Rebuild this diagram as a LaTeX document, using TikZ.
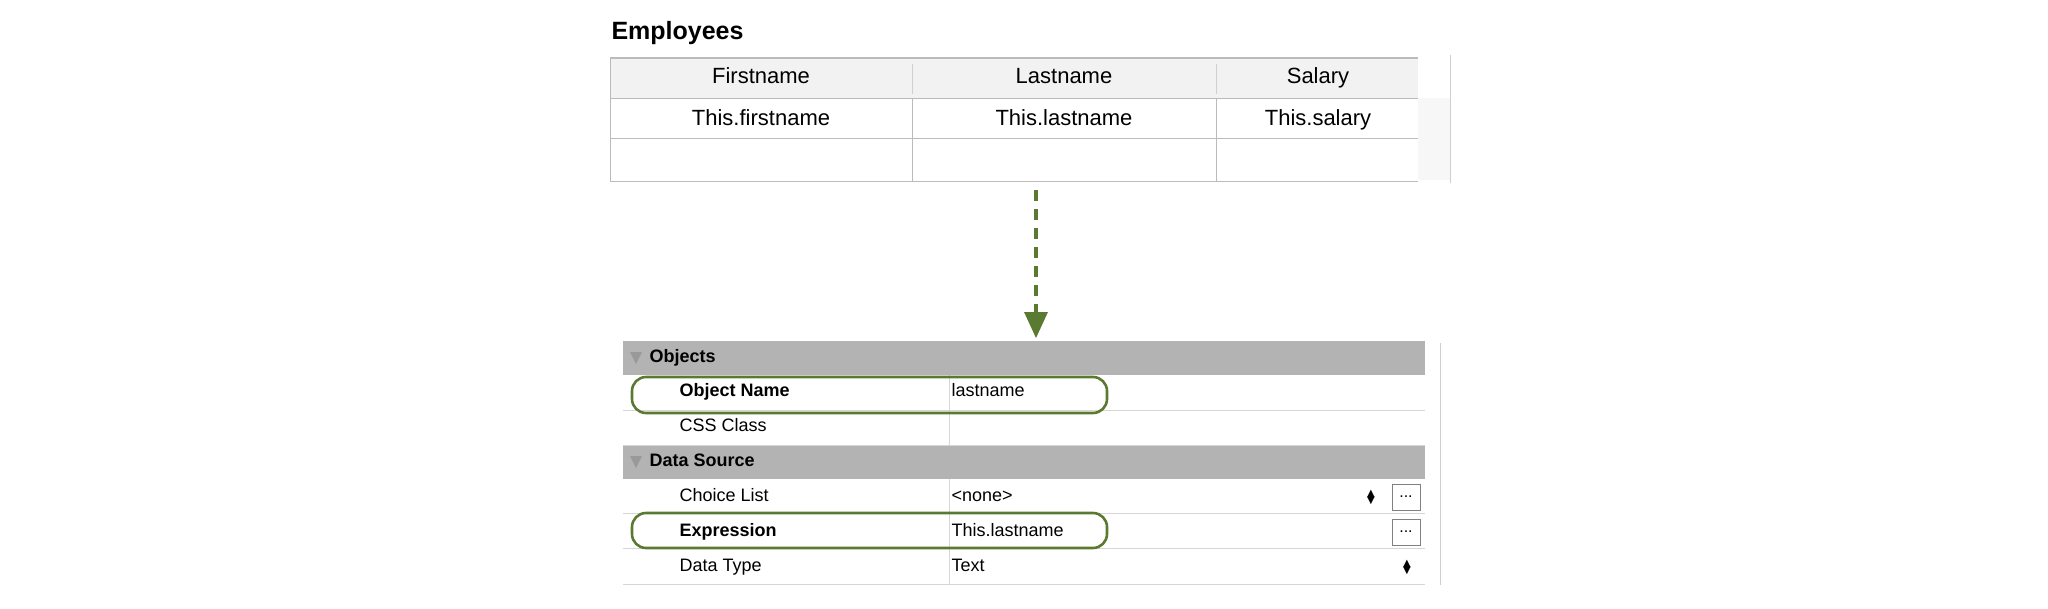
\documentclass[tikz,border=0pt]{standalone}
\usepackage{fontspec}
\setmainfont{Liberation Sans}
\newfontfamily\djv{DejaVu Sans}
\definecolor{grn}{HTML}{5A7A32}
\definecolor{hdr}{HTML}{B3B3B3}
\definecolor{thd}{HTML}{F2F2F2}
\definecolor{ln}{HTML}{BBBBBB}
\begin{document}
\begin{tikzpicture}[x=1pt,y=-1pt,
  tt/.style={font=\fontsize{22}{24}\selectfont,text height=16pt,text depth=5pt},
  pt/.style={font=\fontsize{18}{20}\selectfont,anchor=west,text height=13pt,text depth=4pt},
  pb/.style={font=\bfseries\fontsize{18}{20}\selectfont,anchor=west,text height=13pt,text depth=4pt},
  hl/.style={draw=grn,line width=2.6pt,rounded corners=14pt},
  btn/.style={draw=gray,fill=white,minimum width=28pt,minimum height=26pt,inner sep=0pt,font=\fontsize{16}{16}\selectfont}]
\useasboundingbox (0,0) rectangle (2048,608);
% table
\node[anchor=west,font=\bfseries\fontsize{25}{28}\selectfont] (title) at (608,33) {Employees};
\fill[thd] (610,58) rectangle (1418,98);
\fill[thd!60] (1418,98) rectangle (1450,180);
\draw[ln,line width=1.2pt] (610,58) -- (1418,58);
\draw[ln,line width=1pt] (610,58) -- (610,182);
\draw[ln,line width=1pt] (610,98) -- (1418,98) (610,138) -- (1418,138) (610,181) -- (1418,181);
\draw[ln!70,line width=1pt] (912,64) -- (912,94) (1216,64) -- (1216,94);
\draw[ln,line width=1pt] (912,98) -- (912,182) (1216,98) -- (1216,182);
\draw[ln!70,line width=1pt] (1450,55) -- (1450,183);
\node[tt] (h1) at (761,78) {Firstname};
\node[tt] (h2) at (1064,78) {Lastname};
\node[tt] (h3) at (1318,78) {Salary};
\node[tt] (c1) at (761,120) {This.firstname};
\node[tt] (c2) at (1064,120) {This.lastname};
\node[tt] (c3) at (1318,120) {This.salary};
% arrow
\coordinate (as) at (1036,190);
\coordinate (ae) at (1036,312);
\draw[grn,line width=4pt,dash pattern=on 11pt off 8pt] (as) -- (ae);
\fill[grn] (1024,312) -- (1048,312) -- (1036,338) -- cycle;
% panel
\fill[hdr] (623,341) rectangle (1425,375);
\fill[hdr] (623,445) rectangle (1425,479);
\draw[ln!70,line width=1pt] (1440,343) -- (1440,585);
\foreach \y in {410,445,513,548,584} \draw[ln!60,line width=1pt] (623,\y) -- (1425,\y);
\draw[ln!60,line width=1pt] (949,375) -- (949,445) (949,479) -- (949,584);
\fill[gray!80] (630,352) -- (642,352) -- (636,364) -- cycle;
\fill[gray!80] (630,456) -- (642,456) -- (636,468) -- cycle;
\node[pb] (ob) at (646,358) {Objects};
\node[pb] (ds) at (646,462) {Data Source};
\node[pb] (on) at (676,392) {Object Name};
\node[pt] (onv) at (948,392) {lastname};
\node[pt] (css) at (676,427) {CSS Class};
\node[pt] (cl) at (676,497) {Choice List};
\node[pt] (clv) at (948,497) {<none>};
\node[pb] (ex) at (676,532) {Expression};
\node[pt] (exv) at (948,532) {This.lastname};
\node[pt] (dt) at (676,567) {Data Type};
\node[pt] (dtv) at (948,567) {Text};
\node[btn] (b1) at (1406,497) {...};
\node[btn] (b2) at (1406,532) {...};
\node[font=\djv\fontsize{10}{10}\selectfont,align=center,inner sep=0pt] (ud1) at (1371,497) {▲\\[-3pt]▼};
\node[font=\djv\fontsize{10}{10}\selectfont,align=center,inner sep=0pt] (ud2) at (1407,567) {▲\\[-3pt]▼};
\draw[hl] (632,377) rectangle (1107,413);
\draw[hl] (632,513) rectangle (1107,548);
\end{tikzpicture}
\end{document}
